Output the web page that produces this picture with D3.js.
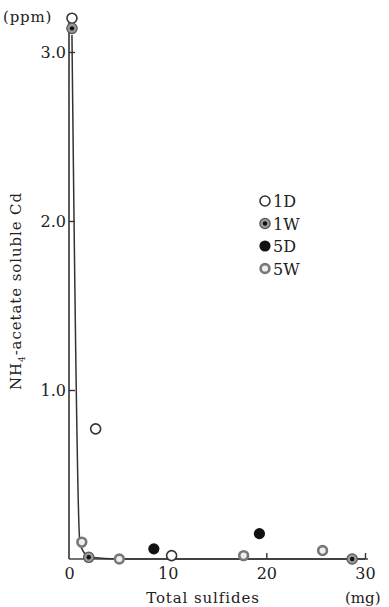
<!DOCTYPE html>
<html>
<head>
<meta charset="utf-8">
<script src="https://cdn.jsdelivr.net/npm/d3@7"></script>
<style>
  body { margin: 0; background: #fff; }
  text { font-family: "DejaVu Serif", "Liberation Serif", serif; fill: #222; }
</style>
</head>
<body>
<div class="chart"></div>
<script>
// series: [total sulfides (mg), NH4-acetate soluble Cd (ppm)]
const s1D = [[0.3, 3.2], [2.7, 0.77], [10.4, 0.02]];
const s1W = [[0.3, 3.14], [2.0, 0.01], [28.7, 0.0]];
const s5D = [[8.6, 0.06], [19.3, 0.15]];
const s5W = [[1.3, 0.1], [5.1, 0.0], [17.7, 0.02], [25.7, 0.05]];
const fitLine = [[0.3, 3.1], [1.1, 0.1], [1.5, 0.04], [2.2, 0.01], [5, 0.0], [30, 0.0]];
const legendNames = ['1D', '1W', '5D', '5W'];
const xTicks = [0, 10, 20, 30];
const yTicks = [1, 2, 3];

const width = 389, height = 607;
const svg = d3.select('.chart').append('svg').attr('width', width).attr('height', height);

const x = d3.scaleLinear().domain([0, 30]).range([69, 365]);
const y = d3.scaleLinear().domain([0, 3]).range([559, 52]);

// axis lines
svg.append('line').attr('x1', x(0)).attr('x2', x(0)).attr('y1', y(0)).attr('y2', y(3.18))
  .attr('stroke', '#333').attr('stroke-width', 1.6);
svg.append('line').attr('x1', x(0)).attr('x2', x(30.3)).attr('y1', y(0)).attr('y2', y(0))
  .attr('stroke', '#444').attr('stroke-width', 1.3);

// y axis
const gy = svg.append('g').attr('transform', 'translate(' + x(0) + ',0)')
  .call(d3.axisLeft(y).tickValues(yTicks).tickSizeInner(-6).tickSizeOuter(0).tickPadding(3).tickFormat(d3.format('.1f')));
gy.select('.domain').remove();
gy.selectAll('line').attr('stroke', '#333').attr('stroke-width', 1.4);
gy.selectAll('text').attr('font-size', 16).attr('fill', '#222');

// x axis
const gx = svg.append('g').attr('transform', 'translate(0,' + y(0) + ')')
  .call(d3.axisBottom(x).tickValues(xTicks).tickSizeInner(-6).tickSizeOuter(0).tickPadding(9));
gx.select('.domain').remove();
gx.selectAll('line').attr('stroke', '#333').attr('stroke-width', 1.4)
  .attr('opacity', d => d === 0 ? 0 : 1);
gx.selectAll('text').attr('font-size', 16).attr('fill', '#222');

// labels
svg.append('text').attr('x', 3).attr('y', 22).attr('font-size', 15).attr('letter-spacing', 0.8).text('(ppm)');
svg.append('text').attr('x', 203).attr('y', 603).attr('text-anchor', 'middle')
  .attr('font-size', 15).attr('letter-spacing', 0.9).text('Total sulfides');
svg.append('text').attr('x', 345).attr('y', 603).attr('font-size', 15).text('(mg)');

const yl = svg.append('text').attr('transform', 'translate(21,' + 291 + ') rotate(-90)')
  .attr('text-anchor', 'middle').attr('font-size', 15).attr('letter-spacing', 0.9);
yl.append('tspan').text('NH');
yl.append('tspan').attr('font-size', 9).attr('dy', 4).text('4');
yl.append('tspan').attr('dy', -4).text('-acetate soluble Cd');

// fit curve
svg.append('path').datum(fitLine)
  .attr('fill', 'none').attr('stroke', '#333').attr('stroke-width', 1.5)
  .attr('d', d3.line().x(d => x(d[0])).y(d => y(d[1])).curve(d3.curveMonotoneX));

// markers
function marker(g, type) {
  if (type === '1D') {
    g.append('circle').attr('r', 5).attr('fill', '#fff').attr('stroke', '#333').attr('stroke-width', 1.6);
  } else if (type === '1W') {
    g.append('circle').attr('r', 5.2).attr('fill', '#999').attr('stroke', '#555').attr('stroke-width', 1.2);
    g.append('circle').attr('r', 2.2).attr('fill', '#111');
  } else if (type === '5D') {
    g.append('circle').attr('r', 5.6).attr('fill', '#111');
  } else {
    g.append('circle').attr('r', 4.4).attr('fill', '#eee').attr('stroke', '#777').attr('stroke-width', 2.6);
  }
}
const seriesList = [[s1D, '1D'], [s1W, '1W'], [s5D, '5D'], [s5W, '5W']];
seriesList.forEach(([data, name]) => {
  svg.selectAll('g.m' + name).data(data).enter().append('g')
    .attr('class', 'm' + name)
    .attr('transform', d => 'translate(' + x(d[0]) + ',' + y(d[1]) + ')')
    .each(function() { marker(d3.select(this), name); });
});

// legend
const lg = svg.selectAll('g.legend').data(legendNames).enter().append('g')
  .attr('class', 'legend')
  .attr('transform', (d, i) => 'translate(265,' + (201 + i * 22.5) + ')');
lg.each(function(d) { marker(d3.select(this), d); });
lg.append('text').attr('x', 8).attr('y', 6).attr('font-size', 16).text(d => d);
</script>
</body>
</html>
